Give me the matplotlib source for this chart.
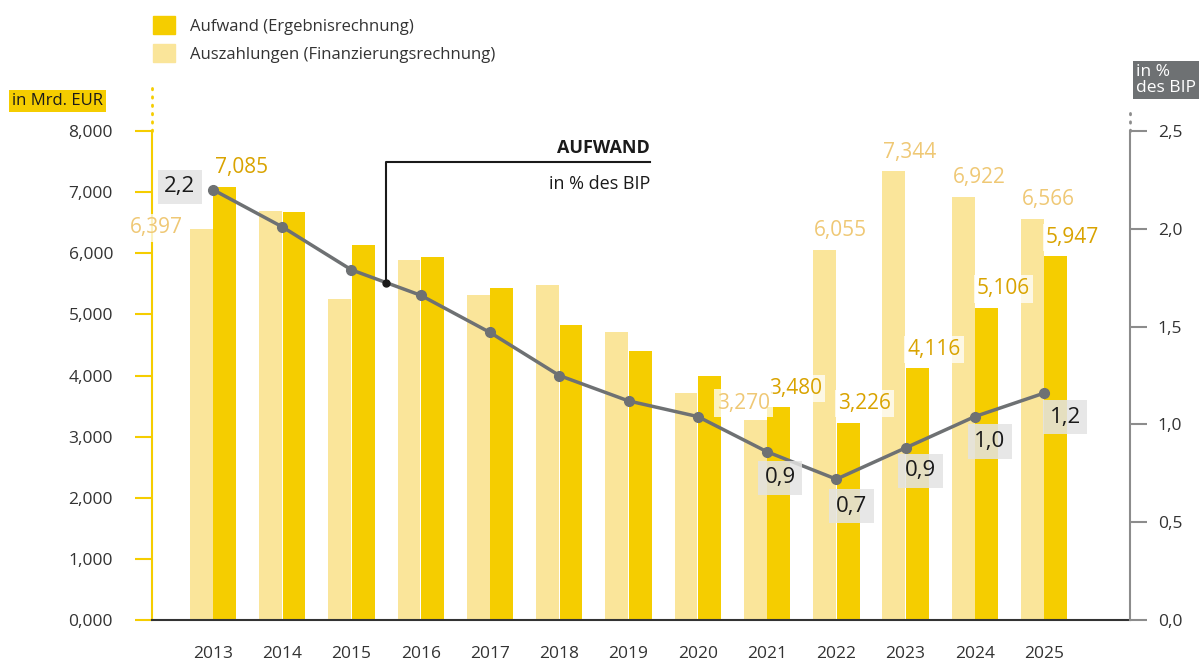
import matplotlib.pyplot as plt
from matplotlib.patches import Patch

years = ['2013', '2014', '2015', '2016', '2017', '2018', '2019',
         '2020', '2021', '2022', '2023', '2024', '2025']
aufwand = [7.085, 6.677, 6.137, 5.941, 5.434, 4.828, 4.403,
           3.993, 3.480, 3.226, 4.116, 5.106, 5.947]
auszahlungen = [6.397, 6.694, 5.254, 5.892, 5.319, 5.483, 4.714,
                3.715, 3.270, 6.055, 7.344, 6.922, 6.566]
pct_bip = [2.2, 2.01, 1.79, 1.66, 1.47, 1.25, 1.12,
           1.04, 0.86, 0.72, 0.88, 1.04, 1.16]
left_ticks = [0, 1, 2, 3, 4, 5, 6, 7, 8]
right_ticks = [0, 0.5, 1.0, 1.5, 2.0, 2.5]

DARK = '#F5CD00'
LIGHT = '#FAE59A'
DARK_TXT = '#D9A300'
LIGHT_TXT = '#EFC875'
GRAY = '#6E7173'

plt.rcParams['font.family'] = ['Open Sans', 'DejaVu Sans']

W, H = 1203, 666
fig = plt.figure(figsize=(W / 100, H / 100), dpi=100)
ax = fig.add_axes([152 / W, 1 - 620 / H, (1130 - 152) / W, (620 - 131) / H])
ax2 = ax.twinx()

x = list(range(len(years)))
bw = 0.33
ax.bar([i - 0.17 for i in x], auszahlungen, width=bw, color=LIGHT, zorder=2)
ax.bar([i + 0.17 for i in x], aufwand, width=bw, color=DARK, zorder=2)

ax.set_xlim(-0.88, 13.24)
ax.set_ylim(0, 8)
ax.set_yticks(left_ticks)
ax.set_yticklabels([f'{t:.3f}'.replace('.', ',') for t in left_ticks])
ax.set_xticks(x)
ax.set_xticklabels(years)
ax.tick_params(axis='x', length=0, pad=19, labelsize=12.5, labelcolor='#333333')
ax.tick_params(axis='y', length=12, width=1.5, color=DARK, labelsize=12.5,
               labelcolor='#333333', pad=16)
for s in ['top', 'right']:
    ax.spines[s].set_visible(False)
ax.spines['left'].set_color(DARK)
ax.spines['left'].set_linewidth(1.5)
ax.spines['bottom'].set_color('#333333')
ax.spines['bottom'].set_linewidth(1.5)

ax2.set_ylim(0, 2.5)
ax2.set_yticks(right_ticks)
ax2.set_yticklabels([f'{t:.1f}'.replace('.', ',') for t in right_ticks])
ax2.tick_params(axis='y', length=12, width=1.5, color='#8C8C8C', labelsize=12.5,
                labelcolor='#333333', pad=8)
for s in ['top', 'left', 'bottom']:
    ax2.spines[s].set_visible(False)
ax2.spines['right'].set_color('#8C8C8C')
ax2.spines['right'].set_linewidth(1.5)

ax2.plot(x, pct_bip, color=GRAY, lw=2.5, marker='o', ms=7, zorder=3)

# dotted extensions above both axes
ax.plot([0, 0], [1.0, 1.09], transform=ax.transAxes, clip_on=False,
        color=DARK, lw=2, ls=(0, (0.5, 2.5)), dash_capstyle='round')
ax2.plot([1, 1], [1.0, 1.045], transform=ax2.transAxes, clip_on=False,
         color='#8C8C8C', lw=2, ls=(0, (0.5, 2.5)), dash_capstyle='round')

# value labels
white_box = dict(boxstyle='square,pad=0.15', fc='white', ec='none', alpha=0.75)
dark_lbl = {0: (2, 19), 8: (2, 19), 9: (2, 19), 10: (2, 19), 11: (2, 19), 12: (2, 19)}
for i, (dx, dy) in dark_lbl.items():
    ax.annotate(f'{aufwand[i]:.3f}'.replace('.', ','), xy=(i, aufwand[i]),
                xytext=(dx, dy), textcoords='offset pixels', ha='left', va='center',
                fontsize=15, color=DARK_TXT, bbox=white_box, zorder=5)

light_lbl = {0: (-0.335, -7, 1, 'right'), 8: (0, 3, 17, 'right'),
             9: (-0.335, 1, 19, 'left'), 10: (-0.335, 1, 19, 'left'),
             11: (-0.335, 1, 19, 'left'), 12: (-0.335, 1, 19, 'left')}
for i, (off, dx, dy, ha) in light_lbl.items():
    ax.annotate(f'{auszahlungen[i]:.3f}'.replace('.', ','),
                xy=(i + off, auszahlungen[i]), xytext=(dx, dy),
                textcoords='offset pixels', ha=ha, va='center',
                fontsize=15, color=LIGHT_TXT, bbox=white_box, zorder=5)

gray_box = dict(boxstyle='square,pad=0.3', fc='#E3E3E3', ec='none', alpha=0.85)
pct_lbl = {0: (-33, 3), 8: (13, -26), 9: (15, -27), 10: (15, -23),
           11: (15, -25), 12: (21, -24)}
for i, (dx, dy) in pct_lbl.items():
    ax2.annotate(f'{pct_bip[i]:.1f}'.replace('.', ','), xy=(i, pct_bip[i]),
                 xytext=(dx, dy), textcoords='offset pixels', ha='center',
                 va='center', fontsize=16, color='#1A1A1A', bbox=gray_box, zorder=6)

# callout for the line
xa = 2.5
ya = (pct_bip[2] + pct_bip[3]) / 2
ytop = 2.34
xr = 6.31
ax2.plot([xa, xa, xr], [ya, ytop, ytop], color='#1A1A1A', lw=1.5,
         clip_on=False, zorder=4)
ax2.plot([xa], [ya], 'o', color='#1A1A1A', ms=5, zorder=4)
fig.text(650 / W, 1 - 148 / H, 'AUFWAND', ha='right', va='center',
         fontsize=13, fontweight='bold', color='#1A1A1A')
fig.text(650 / W, 1 - 184 / H, 'in % des BIP', ha='right', va='center',
         fontsize=13, color='#1A1A1A')

# axis unit labels
fig.text(12 / W, 1 - 101 / H, 'in Mrd. EUR', ha='left', va='center', fontsize=12,
         color='#1A1A1A', bbox=dict(boxstyle='square,pad=0.2', fc=DARK, ec='none'))
fig.text(1136 / W, 1 - 80 / H, 'in %\ndes BIP', ha='left', va='center', fontsize=12.5,
         color='white', linespacing=1.0,
         bbox=dict(boxstyle='square,pad=0.15', fc=GRAY, ec='none'))

handles = [Patch(color=DARK), Patch(color=LIGHT)]
fig.legend(handles, ['Aufwand (Ergebnisrechnung)', 'Auszahlungen (Finanzierungsrechnung)'],
           loc='upper left', bbox_to_anchor=(138 / W, 1 - 1 / H), frameon=False,
           fontsize=12, handlelength=1.3, handleheight=1.3, handletextpad=0.9,
           labelspacing=0.55, labelcolor='#333333')

fig.savefig('out.png', dpi=100)
